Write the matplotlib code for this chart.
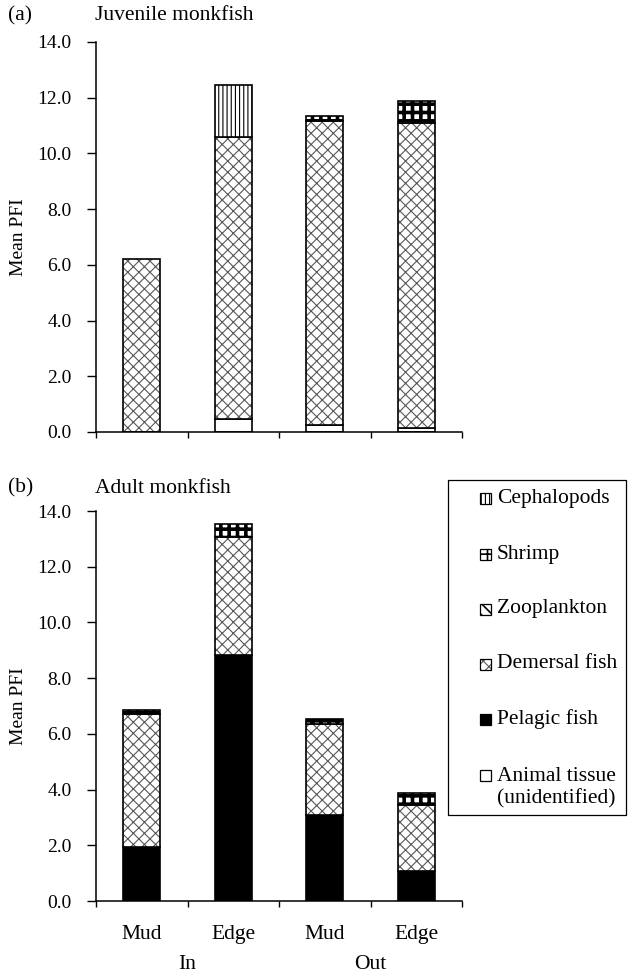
import matplotlib
matplotlib.use('Agg')
import matplotlib.pyplot as plt
from matplotlib.patches import Rectangle
from matplotlib.transforms import blended_transform_factory
import numpy as np

plt.rcParams['font.family'] = ['Liberation Serif', 'DejaVu Serif']
plt.rcParams['hatch.linewidth'] = 0.8

# ---------------- data ----------------
categories = ['Mud', 'Edge', 'Mud', 'Edge']
groups = ['In', 'Out']
group_pos = [0.5, 2.5]
components = ['Animal tissue\n(unidentified)', 'Pelagic fish', 'Demersal fish',
              'Zooplankton', 'Shrimp', 'Cephalopods']
yticks = [0.0, 2.0, 4.0, 6.0, 8.0, 10.0, 12.0, 14.0]

juv_animal = [0.0, 0.45, 0.25, 0.15]
juv_pelagic = [0.0, 0.0, 0.0, 0.0]
juv_demersal = [6.2, 10.15, 10.92, 10.95]
juv_zoo = [0.0, 0.0, 0.0, 0.0]
juv_shrimp = [0.0, 0.0, 0.17, 0.80]
juv_ceph = [0.0, 1.85, 0.0, 0.0]

adu_animal = [0.0, 0.0, 0.0, 0.0]
adu_pelagic = [1.95, 8.83, 3.10, 1.08]
adu_demersal = [4.77, 4.22, 3.25, 2.38]
adu_zoo = [0.0, 0.0, 0.0, 0.0]
adu_shrimp = [0.12, 0.47, 0.18, 0.43]
adu_ceph = [0.0, 0.0, 0.0, 0.0]

juvenile = [juv_animal, juv_pelagic, juv_demersal, juv_zoo, juv_shrimp, juv_ceph]
adult = [adu_animal, adu_pelagic, adu_demersal, adu_zoo, adu_shrimp, adu_ceph]

# styles: (facecolor, hatch, hatchcolor, hatch linewidth)
styles = [
    ('white', None, 'black', 0.8),
    ('black', None, 'black', 0.8),
    ('white', 'xxx', '#585858', 0.8),
    ('white', '\\\\\\', 'black', 1.2),
    ('white', '++', 'black', 2.6),
    ('white', '||||', 'black', 0.8),
]

W, H = 628, 977
fig = plt.figure(figsize=(W / 100, H / 100), dpi=100)

FS = 15.5
TFS = 14.0


def px_ax(x0, y_top, x1, y_bot):
    return [x0 / W, 1 - y_bot / H, (x1 - x0) / W, (y_bot - y_top) / H]


def draw_segment(ax, x, h, b, style, width=0.4):
    face, hatch, hc, hlw = style
    with plt.rc_context({'hatch.linewidth': hlw}):
        ax.bar(x, h, bottom=b, width=width, color=face, hatch=hatch,
               edgecolor=hc, linewidth=0)
    ax.bar(x, h, bottom=b, width=width, fill=False, edgecolor='black',
           linewidth=1.2)


def panel(ax, data, show_x):
    x = np.arange(len(categories))
    bottom = np.zeros(len(categories))
    for comp, style in zip(data, styles):
        vals = np.array(comp, dtype=float)
        for i in range(len(x)):
            if vals[i] > 0:
                draw_segment(ax, x[i], vals[i], bottom[i], style)
        bottom += vals
    ax.set_xlim(-0.5, len(categories) - 0.5)
    ax.set_ylim(0, 14)
    ax.set_yticks(yticks)
    ax.set_yticklabels(['%.1f' % v for v in yticks], fontsize=TFS)
    ax.set_xticks(np.arange(-0.5, len(categories), 1.0))
    ax.set_xticklabels([])
    ax.tick_params(axis='y', direction='out', length=6.5, width=1.0, pad=11)
    ax.tick_params(axis='x', which='major', direction='out', length=4.5, width=1.0)
    for s in ['top', 'right']:
        ax.spines[s].set_visible(False)
    for s in ['left', 'bottom']:
        ax.spines[s].set_linewidth(1.1)
    ax.set_ylabel('Mean PFI', fontsize=TFS)
    ax.yaxis.label.set_va('center')
    ax.yaxis.set_label_coords(-0.213, 0.5)
    if show_x:
        ax.set_xticks(x, minor=True)
        ax.set_xticklabels(categories, minor=True, fontsize=FS)
        ax.tick_params(axis='x', which='minor', length=0, pad=17)
        tr = blended_transform_factory(ax.transData, ax.transAxes)
        for g, gx in zip(groups, group_pos):
            ax.text(gx, -0.162, g, transform=tr, ha='center', va='center',
                    fontsize=FS)


ax1 = fig.add_axes(px_ax(96, 42, 462, 432))
panel(ax1, juvenile, False)
ax2 = fig.add_axes(px_ax(96, 511, 462, 901))
panel(ax2, adult, True)

fig.text(8 / W, 1 - 16 / H, '(a)', fontsize=FS, ha='left', va='center')
fig.text(95 / W, 1 - 16 / H, 'Juvenile monkfish', fontsize=FS, ha='left', va='center')
fig.text(8 / W, 1 - 488 / H, '(b)', fontsize=FS, ha='left', va='center')
fig.text(95 / W, 1 - 488 / H, 'Adult monkfish', fontsize=FS, ha='left', va='center')

# ---------------- legend (drawn manually) ----------------
fig.add_artist(Rectangle((448 / W, 1 - 815 / H), (626 - 448) / W, (815 - 480) / H,
                         transform=fig.transFigure, fill=False,
                         edgecolor='black', linewidth=0.9))
leg_y = [775, 719, 664, 609, 554, 498]
for lab, style, yc in zip(components, styles, leg_y):
    face, hatch, hc, hlw = style
    s = 11
    with plt.rc_context({'hatch.linewidth': min(hlw, 1.2)}):
        fig.add_artist(Rectangle((480 / W, 1 - (yc + s / 2) / H), s / W, s / H,
                                 transform=fig.transFigure, facecolor=face,
                                 hatch=hatch, edgecolor=hc, linewidth=0))
    fig.add_artist(Rectangle((480 / W, 1 - (yc + s / 2) / H), s / W, s / H,
                             transform=fig.transFigure, fill=False,
                             edgecolor='black', linewidth=0.9))
    if '\n' in lab:
        fig.text(497 / W, 1 - (yc - 8) / H, lab, fontsize=FS, ha='left', va='top',
                 linespacing=1.2)
    else:
        fig.text(497 / W, 1 - yc / H, lab, fontsize=FS, ha='left', va='center')

fig.savefig('out.png', dpi=100)
